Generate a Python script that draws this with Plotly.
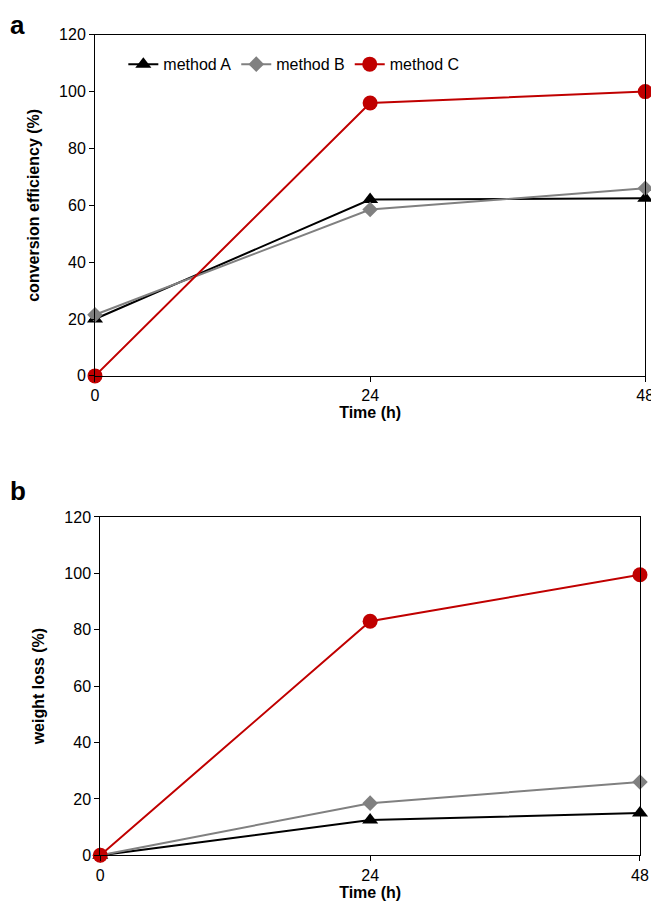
import plotly.graph_objects as go

time_h = [0, 24, 48]
conv_a = [20, 62, 62.5]
conv_b = [21.5, 58.5, 66]
conv_c = [0, 96, 100]
loss_a = [0, 12.5, 15]
loss_b = [0, 18.5, 26]
loss_c = [0, 83, 99.5]

styles = {
    "method A": dict(color="black", symbol="triangle-up", size=14),
    "method B": dict(color="#808080", symbol="diamond", size=12),
    "method C": dict(color="#c00000", symbol="circle", size=15),
}

fig = go.Figure()
for name, top, bot in [("method A", conv_a, loss_a), ("method B", conv_b, loss_b), ("method C", conv_c, loss_c)]:
    s = styles[name]
    fig.add_trace(go.Scatter(x=time_h, y=top, name=name, mode="lines+markers", cliponaxis=False,
                             line=dict(color=s["color"], width=2),
                             marker=dict(color=s["color"], symbol=s["symbol"], size=s["size"]),
                             xaxis="x", yaxis="y"))
    fig.add_trace(go.Scatter(x=time_h, y=bot, name=name, mode="lines+markers", showlegend=False,
                             cliponaxis=False,
                             line=dict(color=s["color"], width=2),
                             marker=dict(color=s["color"], symbol=s["symbol"], size=s["size"]),
                             xaxis="x2", yaxis="y2"))

ax = dict(showline=True, linecolor="black", linewidth=1, mirror=True, ticks="outside",
          ticklen=5, tickcolor="black", showgrid=False, zeroline=False, automargin=False,
          tickfont=dict(size=16, color="black"))
xax = dict(ax, range=[0, 48], tickvals=[0, 24, 48],
           title=dict(text="<b>Time (h)</b>", font=dict(size=16, color="black"), standoff=0))

fig.update_layout(
    width=659, height=922, margin=dict(l=0, r=0, t=0, b=0, autoexpand=False),
    plot_bgcolor="white", paper_bgcolor="white",
    font=dict(family="Liberation Sans, Arial", color="black"),
    xaxis=dict(xax, domain=[0.132, 0.967], anchor="y"),
    yaxis=dict(ax, domain=[0.601, 0.971], range=[0, 120], dtick=20, anchor="x",
               title=dict(text="<b>conversion efficiency (%)</b>", font=dict(size=16, color="black"))),
    xaxis2=dict(xax, domain=[0.140, 0.959], anchor="y2"),
    yaxis2=dict(ax, domain=[0.081, 0.448], range=[0, 120], dtick=20, anchor="x2",
                title=dict(text="<b>weight loss (%)</b>", font=dict(size=16, color="black"))),
    legend=dict(orientation="h", x=0.175, y=0.939, xanchor="left", yanchor="middle",
                bgcolor="rgba(0,0,0,0)", font=dict(size=16, color="black")),
    annotations=[
        dict(text="<b>a</b>", x=0.0, y=1.0, xref="paper", yref="paper", showarrow=False,
             xanchor="left", yanchor="top", font=dict(size=26, color="black")),
        dict(text="<b>b</b>", x=0.0, y=0.495, xref="paper", yref="paper", showarrow=False,
             xanchor="left", yanchor="top", font=dict(size=26, color="black")),
    ],
)

fig.write_html("out.html")
